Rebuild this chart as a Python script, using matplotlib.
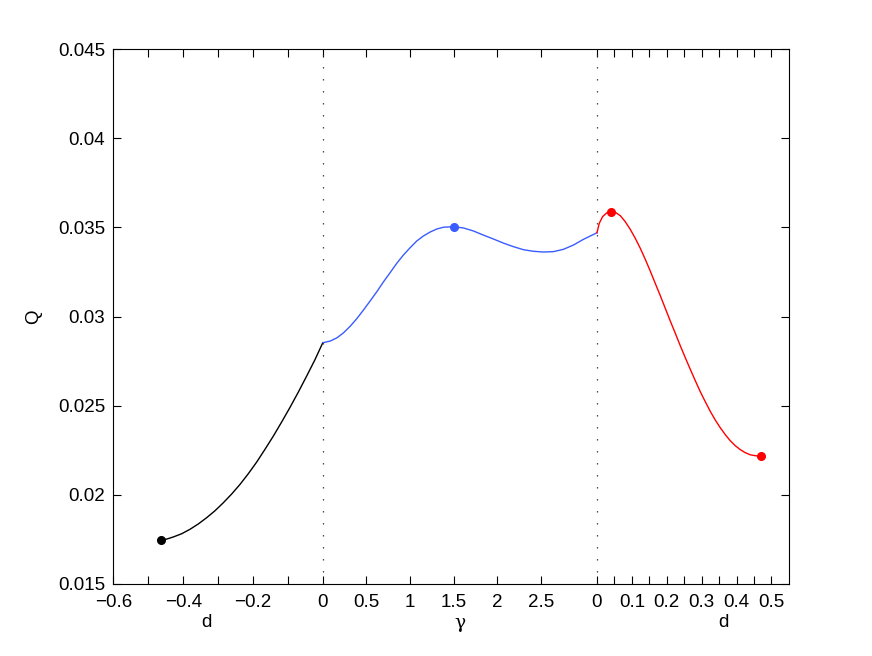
import numpy as np
import matplotlib
matplotlib.use('Agg')
import matplotlib.pyplot as plt
import matplotlib.transforms as mtransforms

plt.rcParams['font.family'] = ['Liberation Sans', 'DejaVu Sans']

# left part: d < 0
d_left = [-0.4646, -0.4474, -0.4283, -0.4044, -0.3805, -0.3567, -0.3328,
          -0.3089, -0.2850, -0.2611, -0.2372, -0.2134, -0.1895, -0.1656,
          -0.1417, -0.1179, -0.0940, -0.0701, -0.0462, -0.0224, 0.0]
q_left = [0.01746, 0.01751, 0.01763, 0.01781, 0.01806, 0.01836, 0.01871,
          0.01910, 0.01955, 0.02004, 0.02058, 0.02118, 0.02183, 0.02255,
          0.02329, 0.02408, 0.02490, 0.02576, 0.02666, 0.02758, 0.02853]

# middle part: gamma from 0 to pi
gamma = [0.0, 0.0837, 0.1604, 0.2361, 0.3128, 0.3896, 0.4652, 0.5420,
         0.6188, 0.6944, 0.7712, 0.8480, 0.9236, 1.0004, 1.0771, 1.1527,
         1.2295, 1.3063, 1.3819, 1.4965, 1.6111, 1.7257, 1.8403, 1.9549,
         2.0695, 2.1840, 2.2986, 2.4132, 2.5278, 2.6424, 2.7570, 2.8716,
         2.9862, 3.1416]
q_mid = [0.02853, 0.02862, 0.02880, 0.02908, 0.02945, 0.02988, 0.03036,
         0.03087, 0.03139, 0.03194, 0.03246, 0.03299, 0.03345, 0.03386,
         0.03424, 0.03452, 0.03474, 0.03491, 0.03501, 0.03504, 0.03497,
         0.03480, 0.03457, 0.03435, 0.03412, 0.03392, 0.03375, 0.03366,
         0.03362, 0.03364, 0.03377, 0.03401, 0.03433, 0.03470]

# right part: d > 0
d_right = [0.0, 0.0066, 0.0160, 0.0275, 0.0401, 0.0524, 0.0668, 0.0811,
           0.0954, 0.1097, 0.1241, 0.1384, 0.1527, 0.1670, 0.1814, 0.1957,
           0.2100, 0.2244, 0.2387, 0.2530, 0.2673, 0.2817, 0.2960, 0.3103,
           0.3246, 0.3390, 0.3533, 0.3676, 0.3819, 0.3963, 0.4106, 0.4249,
           0.4393, 0.4536, 0.4699]
q_right = [0.03470, 0.03523, 0.03560, 0.03581, 0.03588, 0.03585, 0.03566,
           0.03532, 0.03489, 0.03439, 0.03383, 0.03321, 0.03255, 0.03186,
           0.03117, 0.03046, 0.02975, 0.02906, 0.02836, 0.02769, 0.02704,
           0.02640, 0.02578, 0.02522, 0.02468, 0.02419, 0.02376, 0.02337,
           0.02303, 0.02275, 0.02253, 0.02236, 0.02224, 0.02219, 0.02216]

# marked points
mark_left = (-0.4646, 0.01746)
mark_mid = (1.5, 0.03504)
mark_right = (0.0401, 0.03588)
mark_end = (0.4699, 0.02216)

g_scale = 0.25            # gamma axis squeezed into pi/4
x0 = np.pi * g_scale      # where the right d-axis starts

left_ticks = [-0.6, -0.5, -0.4, -0.3, -0.2, -0.1, 0.0]
left_labels = ['\u22120.6', '', '\u22120.4', '', '\u22120.2', '', '0']
mid_ticks = [0.5, 1, 1.5, 2, 2.5]
mid_labels = ['0.5', '1', '1.5', '2', '2.5']
right_ticks = [0, 0.05, 0.1, 0.15, 0.2, 0.25, 0.3, 0.35, 0.4, 0.45, 0.5]
right_labels = ['0', '', '0.1', '', '0.2', '', '0.3', '', '0.4', '', '0.5']

y_ticks = [0.015, 0.02, 0.025, 0.03, 0.035, 0.04, 0.045]
y_labels = ['0.015', '0.02', '0.025', '0.03', '0.035', '0.04', '0.045']

blue = '#3a5cff'

fig = plt.figure(figsize=(8.72, 6.56), dpi=100)
ax = fig.add_axes([0.13, 0.11, 0.775, 0.815])

ax.plot(d_left, q_left, color='k', lw=1.0)
ax.plot(np.array(gamma) * g_scale, q_mid, color=blue, lw=1.0)
ax.plot(x0 + np.array(d_right), q_right, color='r', lw=1.0)

ax.plot(*mark_left, 'o', color='k', ms=5.5)
ax.plot(mark_mid[0] * g_scale, mark_mid[1], 'o', color=blue, ms=5.5)
ax.plot(x0 + mark_right[0], mark_right[1], 'o', color='r', ms=5.5)
ax.plot(x0 + mark_end[0], mark_end[1], 'o', color='r', ms=5.5)

for xv in [0, x0]:
    ax.plot([xv, xv], [0.015, 0.045], color='#333333', lw=0.9,
            linestyle=(0, (1.1, 8.5)))

# composite x axis: d<0 | gamma | d>0
xt = list(left_ticks) + [g * g_scale for g in mid_ticks] + [x0 + v for v in right_ticks]
xl = left_labels + mid_labels + right_labels

ax.set_xticks(xt)
ax.set_xticklabels(xl)
ax.set_yticks(y_ticks)
ax.set_yticklabels(y_labels)
ax.set_xlim(-0.6, 1.336)
ax.set_ylim(0.015, 0.045)

ax.tick_params(direction='in', length=5.5, width=0.8, top=True, right=True,
               labelsize=13.5)
ax.tick_params(axis='x', pad=7)
ax.tick_params(axis='y', pad=6)
for s in ax.spines.values():
    s.set_linewidth(0.8)

ax.set_ylabel('Q', fontsize=13.5)
ax.yaxis.set_label_coords(-0.106, 0.5)

trans = mtransforms.blended_transform_factory(ax.transData, ax.transAxes)
ax.text(-0.333, -0.073, 'd', transform=trans, ha='center', va='center', fontsize=13.5)
ax.text(np.pi / 8, -0.073, '\u03b3', transform=trans, ha='center', va='center',
        fontsize=13.5, family=['DejaVu Serif'])
ax.text(x0 + 0.361, -0.073, 'd', transform=trans, ha='center', va='center', fontsize=13.5)

fig.savefig('out.png', dpi=100)
